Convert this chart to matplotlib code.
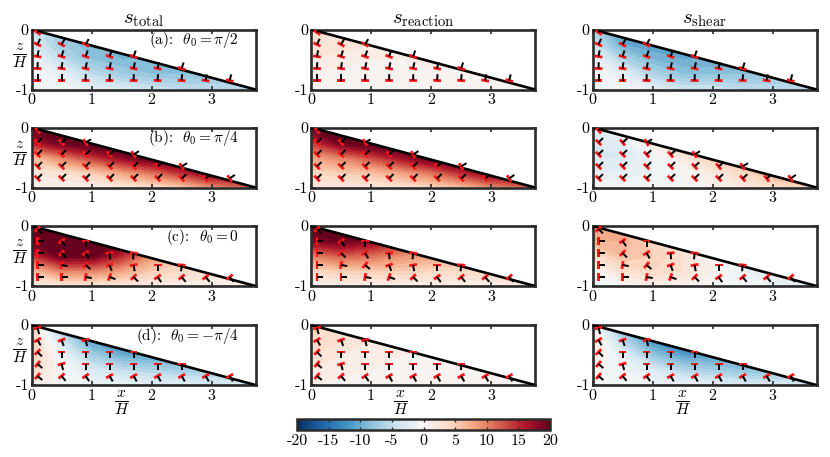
import numpy as np
import matplotlib
matplotlib.use("Agg")
import matplotlib.pyplot as plt
from matplotlib.patches import Polygon
from matplotlib.colors import Normalize
from matplotlib.cm import ScalarMappable

plt.rcParams['font.family'] = 'serif'
plt.rcParams['font.serif'] = ['cmr10', 'DejaVu Serif']
plt.rcParams['mathtext.fontset'] = 'cm'
plt.rcParams['axes.unicode_minus'] = False

# ---------------- data ----------------
L = 3.73  # x/H where the sloping surface meets z/H=-1

col_titles = [r'$s_{\rm total}$', r'$s_{\rm reaction}$', r'$s_{\rm shear}$']
row_labels = [r'(a):  $\theta_0=\pi/2$', r'(b):  $\theta_0=\pi/4$',
              r'(c):  $\theta_0=0$', r'(d):  $\theta_0=-\pi/4$']

grid_x = [0, 0.5, 1.0, 1.5, 2.0, 2.5, 3.0, 3.75]
grid_z = [0, -0.25, -0.5, -0.75, -1.0]

s_total_a = [[-4, -7, -9, -9, -9, -9, -9, -8],
             [-3, -7, -9, -9, -9, -9, -9, -8],
             [-1, -5, -8, -9, -9, -9, -9, -8],
             [0, -2, -5, -7, -8, -8, -8, -7],
             [0, 0, -2, -3, -4, -5, -5, -5]]
s_reaction_a = [[4, 3, 3, 2, 2, 2, 2, 1],
                [3, 2.5, 2, 2, 2, 2, 2, 1],
                [2, 1.5, 1, 1, 1.5, 1.5, 1.5, 1],
                [1, 0.5, 0.5, 0.5, 0.5, 0.5, 1, 1],
                [0.5, 0, 0, 0, 0, 0, 0.5, 0.5]]
s_shear_a = [[-6, -11, -12, -11, -11, -11, -10, -9],
             [-4, -10, -11, -11, -11, -11, -10, -9],
             [-1, -6, -9, -10, -10, -10, -10, -9],
             [0, -2, -6, -8, -8, -8, -8, -7],
             [0, 0, -2, -4, -4, -5, -5, -5]]

s_total_b = [[20, 22, 22, 22, 22, 22, 22, 22],
             [16, 20, 22, 22, 22, 22, 22, 22],
             [6, 10, 14, 18, 21, 22, 22, 22],
             [2, 3, 5, 8, 11, 15, 19, 20],
             [1, 1, 1, 2, 3, 5, 9, 12]]
s_reaction_b = [[20, 22, 22, 22, 22, 22, 22, 22],
                [14, 20, 22, 22, 22, 22, 22, 22],
                [8, 10, 13, 17, 21, 22, 22, 22],
                [4, 5, 6, 8, 11, 15, 19, 20],
                [2, 2, 2, 3, 4, 6, 9, 12]]
s_shear_b = [[-2, 0, 3, 5, 7, 8, 9, 10],
             [-3, -2, 2, 5, 7, 8, 9, 10],
             [-3, -3, -1, 2, 5, 7, 9, 10],
             [-2, -2, -1, 0, 2, 4, 7, 8],
             [0, 0, 0, 0, 1, 2, 3, 5]]

s_total_c = [[20, 22, 22, 20, 14, 8, 5, 3],
             [20, 22, 22, 20, 14, 8, 5, 3],
             [14, 20, 20, 15, 9, 6, 4, 3],
             [6, 10, 10, 8, 5, 4, 3, 2],
             [1, 2, 2, 2, 1.5, 1, 1, 1]]
s_reaction_c = [[22, 22, 20, 16, 12, 9, 7, 5],
                [18, 20, 18, 15, 11, 9, 7, 5],
                [10, 12, 11, 9, 8, 7, 6, 5],
                [4, 5, 5, 5, 4, 4, 4, 4],
                [1, 1, 1, 1, 1, 1, 1, 2]]
s_shear_c = [[8, 8, 4, 0, -2, -3, -3, -2],
             [7, 7, 4, 0, -2, -3, -3, -2],
             [3, 6, 5, 3, 0, -2, -3, -2],
             [0, 3, 4, 3, 1, -1, -2, -2],
             [0, 0, 1, 1, 0, 0, -1, -1]]

s_total_d = [[3, -8, -12, -13, -13, -12, -10, -8],
             [5, -4, -11, -12, -13, -12, -10, -8],
             [5, -1, -7, -10, -11, -11, -10, -8],
             [4, 0, -3, -5, -6, -7, -7, -6],
             [2, 0, -1, -1, -2, -2, -3, -3]]
s_reaction_d = [[5, 3, 2, 2, 1.5, 1.5, 1, 1],
                [4, 3, 2, 1.5, 1.5, 1, 1, 1],
                [3, 2, 1.5, 1, 1, 1, 1, 1],
                [2, 1.5, 1, 0.5, 0.5, 0.5, 0.5, 0.5],
                [1, 0.5, 0.5, 0.5, 0.5, 0.5, 0.5, 0.5]]
s_shear_d = [[1, -9, -13, -13, -13, -12, -11, -9],
             [2, -6, -12, -13, -13, -12, -11, -9],
             [2, -2, -8, -11, -11, -11, -10, -9],
             [1, -1, -3, -6, -7, -8, -8, -7],
             [0, 0, -1, -1, -2, -3, -3, -4]]

# glyph positions and stem orientation (degrees), NaN = no glyph
glyph_x = [0.1, 0.5, 0.9, 1.3, 1.7, 2.1, 2.5, 2.9, 3.3]
glyph_z = [-0.05, -0.25, -0.45, -0.65, -0.85]
n = np.nan
theta_a = [[55, n, n, n, n, n, n, n, n],
           [65, 60, 60, n, n, n, n, n, n],
           [80, 72, 70, 70, 70, n, n, n, n],
           [88, 82, 78, 78, 78, 78, 72, n, n],
           [90, 90, 88, 88, 88, 86, 86, 80, 76]]
theta_b = [[40, n, n, n, n, n, n, n, n],
           [45, 40, 30, n, n, n, n, n, n],
           [45, 45, 42, 40, 32, n, n, n, n],
           [45, 45, 45, 45, 42, 40, 32, n, n],
           [45, 45, 45, 45, 45, 45, 42, 38, 35]]
theta_c = [[-45, n, n, n, n, n, n, n, n],
           [0, -55, -90, n, n, n, n, n, n],
           [0, -45, -60, -85, -95, n, n, n, n],
           [0, -10, -40, -70, -80, -90, -95, n, n],
           [0, 0, -10, -20, -45, -55, -50, -50, -50]]
theta_d = [[-75, n, n, n, n, n, n, n, n],
           [-60, -70, -75, n, n, n, n, n, n],
           [-45, -90, -90, -90, -90, n, n, n, n],
           [-40, -75, -90, -90, -90, -90, -90, n, n],
           [-40, -50, -55, -60, -60, -60, -60, -60, -60]]

cbar_ticks = [-20, -15, -10, -5, 0, 5, 10, 15, 20]

fields = [[s_total_a, s_reaction_a, s_shear_a],
          [s_total_b, s_reaction_b, s_shear_b],
          [s_total_c, s_reaction_c, s_shear_c],
          [s_total_d, s_reaction_d, s_shear_d]]
thetas = [theta_a, theta_b, theta_c, theta_d]

# ---------------- figure ----------------
W, H = 830, 457
fig = plt.figure(figsize=(W / 100, H / 100), dpi=100)
cmap = plt.get_cmap('RdBu_r')
norm = Normalize(-20, 20)
levels = np.linspace(-20, 20, 41)

col_left = [31.5, 311, 592.5]
row_top = [29.5, 127.5, 226, 325]
aw, ah = 224, 60
frame_c = '#2a2a2a'

GX, GZ = np.meshgrid(grid_x, grid_z)
PX, PZ = np.meshgrid(glyph_x, glyph_z)

for r in range(4):
    th = np.deg2rad(np.array(thetas[r], dtype=float))
    for c in range(3):
        ax = fig.add_axes([col_left[c] / W, 1 - (row_top[r] + ah) / H, aw / W, ah / H])
        cs = ax.contourf(GX, GZ, np.array(fields[r][c], dtype=float), levels=levels,
                         cmap=cmap, norm=norm, extend='both', zorder=1)
        tri = Polygon([[0, 0], [L, -1], [0, -1]], closed=True, transform=ax.transData,
                      facecolor='none', edgecolor='none')
        cs.set_clip_path(tri)
        ax.plot([0, L], [0, -1], color='black', lw=1.9, zorder=3, solid_capstyle='butt')
        # glyphs: red bar perpendicular, black stem along theta
        ax.quiver(PX, PZ, np.cos(th + np.pi / 2), np.sin(th + np.pi / 2),
                  angles='xy', scale_units='xy', scale=1 / 0.13, pivot='middle',
                  units='dots', width=2.8, headwidth=1, headlength=0, headaxislength=0,
                  color='#ff1414', zorder=4)
        ax.quiver(PX, PZ, np.cos(th), np.sin(th),
                  angles='xy', scale_units='xy', scale=1 / 0.105, pivot='tail',
                  units='dots', width=2.0, headwidth=1, headlength=0, headaxislength=0,
                  color='black', zorder=5)
        ax.set_xlim(0, L)
        ax.set_ylim(-1, 0)
        ax.set_xticks([0, 1, 2, 3])
        ax.set_xticklabels(['0', '1', '2', '3'])
        ax.set_yticks([-1, 0])
        ax.set_yticklabels(['-1', '0'])
        ax.tick_params(direction='in', top=True, right=True, length=3, width=1.2,
                       labelsize=11.5, pad=3, color=frame_c)
        ax.tick_params(axis='y', pad=2)
        for s in ax.spines.values():
            s.set_linewidth(1.9)
            s.set_color(frame_c)
        if r == 0:
            ax.set_title(col_titles[c], fontsize=15, pad=4)
        if c == 0:
            ax.text(-0.05, 0.57, r'$\frac{z}{H}$', transform=ax.transAxes,
                    ha='center', va='center', fontsize=16)
            ax.text(0.925, 0.82, row_labels[r], transform=ax.transAxes,
                    ha='right', va='center', fontsize=11)
        if r == 3:
            ax.text(1.5, -1.3, r'$\frac{x}{H}$', transform=ax.transData,
                    ha='center', va='center', fontsize=16)

cax = fig.add_axes([297 / W, 1 - 430 / H, 253 / W, 11 / H])
sm = ScalarMappable(norm=norm, cmap=cmap)
cb = fig.colorbar(sm, cax=cax, orientation='horizontal', ticks=cbar_ticks)
cb.set_ticklabels([str(t) for t in cbar_ticks])
cax.tick_params(direction='in', top=True, bottom=True, length=2.5, width=1,
                labelsize=11.5, pad=3, color=frame_c)
cb.outline.set_linewidth(1.8)
cb.outline.set_edgecolor(frame_c)

fig.savefig('out.png', dpi=100)
